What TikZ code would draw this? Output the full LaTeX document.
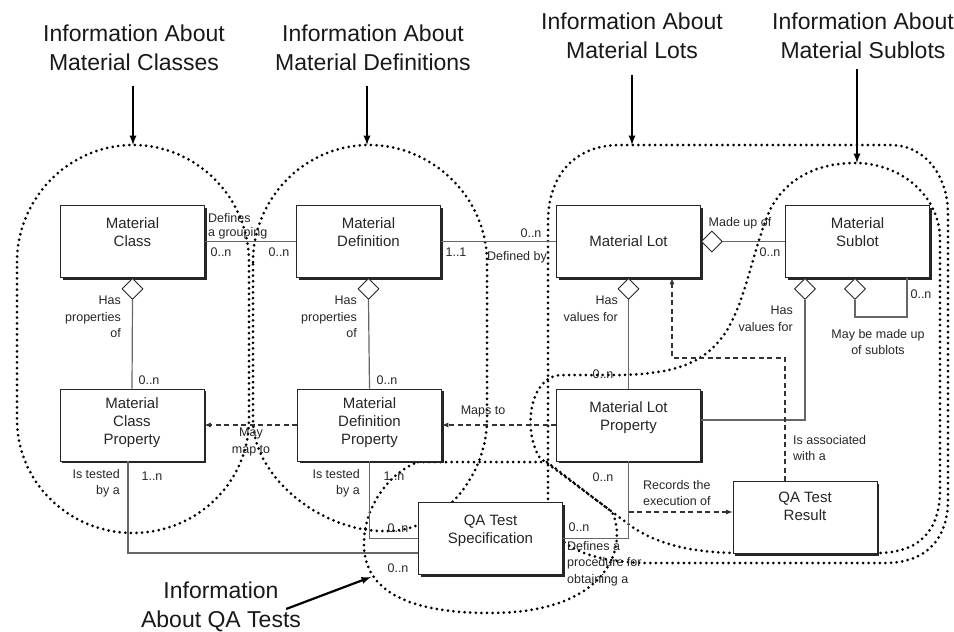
\documentclass[tikz,border=0pt]{standalone}
\usepackage{fontspec}
\setmainfont{Liberation Sans}
\usetikzlibrary{shapes.geometric,shadows,positioning}

\begin{document}
\begin{tikzpicture}[x=1pt,y=-1pt]
  % Colors
  \colorlet{linecolor}{black!60}
  \colorlet{textcolor}{black!85}

  % Styles
  \tikzset{
    entity/.style={draw=black!85,line width=0.9pt,fill=white,minimum width=144pt,minimum height=72pt,
      drop shadow={shadow xshift=2pt,shadow yshift=-2pt,fill=black!85,opacity=1}},
    etext/.style={anchor=north,align=center,inner sep=0pt,text=textcolor,font=\fontsize{15}{18}\selectfont},
    lbl/.style={inner sep=0pt,text=textcolor,font=\fontsize{12.5}{16.5}\selectfont},
    heading/.style={align=center,inner sep=0pt,text=black!90,font=\fontsize{23}{29}\selectfont},
    rel/.style={draw=linecolor,line width=1.2pt},
    ref/.style={draw=black!80,line width=1.2pt,dash pattern=on 5pt off 3.5pt,-latex},
    agg/.style={diamond,draw=black!85,line width=0.9pt,fill=white,minimum width=21pt,minimum height=21pt,inner sep=0pt},
    region/.style={line width=3pt,dash pattern=on 0pt off 5.6pt,line cap=round},
    pointer/.style={line width=2.2pt,-latex}
  }
  \useasboundingbox (0,0) rectangle (954,632);

  % Regions
  \draw[region] (17,262) .. controls (17,198) and (69,145) .. (133,145)
    .. controls (197,145) and (249,198) .. (249,262) -- (249,420)
    .. controls (249,482) and (197,533) .. (133,533)
    .. controls (69,533) and (17,482) .. (17,420) -- cycle;
  \draw[region] (253,262) .. controls (253,198) and (305,145) .. (369,145)
    .. controls (433,145) and (487,198) .. (487,262) -- (487,420)
    .. controls (487,470) and (450,522) .. (400,530)
    .. controls (330,540) and (253,480) .. (253,420) -- cycle;
  \draw[region] (418,462) -- (547,462) -- (612,512)
    .. controls (628,545) and (610,613) .. (490,613)
    .. controls (390,613) and (362,580) .. (364,540)
    .. controls (366,500) and (395,470) .. (418,462);
  \draw[region] (548,510) -- (548,222) .. controls (548,175) and (575,145) .. (620,145)
    -- (890,145) .. controls (925,145) and (948,175) .. (948,215) -- (948,500)
    .. controls (948,540) and (925,563) .. (885,563) -- (650,563)
    .. controls (600,563) and (548,550) .. (548,510);
  \draw[region] (855,163) .. controls (815,163) and (785,180) .. (770,210)
    .. controls (752,250) and (745,310) .. (720,340)
    .. controls (700,365) and (670,374) .. (620,375) -- (560,375)
    .. controls (530,377) and (522,430) .. (540,458) -- (627,523)
    .. controls (655,545) and (695,553) .. (740,553) -- (877,553)
    .. controls (920,553) and (940,530) .. (940,490) -- (940,240)
    .. controls (940,195) and (900,163) .. (855,163);

  \coordinate (classes-top) at (133,145);
  \coordinate (defs-top) at (367,145);
  \coordinate (lots-top) at (632,145);
  \coordinate (sublots-top) at (857,163);
  \coordinate (qa-tip) at (371,577);

  % Headings
  \node[heading] (h-classes) at (134,47.5) {Information About\\Material Classes};
  \node[heading] (h-defs) at (373,47.5) {Information About\\Material Definitions};
  \node[heading] (h-lots) at (632,36) {Information About\\Material Lots};
  \node[heading] (h-sublots) at (863,36) {Information About\\Material Sublots};
  \node[heading] (h-qa) at (221,607) {Information\\About QA Tests};

  \draw[pointer,shorten <=15pt] (h-classes.south -| classes-top) -- (classes-top);
  \draw[pointer,shorten <=15pt] (h-defs.south -| defs-top) -- (defs-top);
  \draw[pointer,shorten <=16pt] (h-lots.south -| lots-top) -- (lots-top);
  \draw[pointer,shorten <=10pt] (h-sublots.south -| sublots-top) -- (sublots-top);
  \draw[pointer] ([xshift=-15pt,yshift=-2pt]h-qa.east) -- (qa-tip);

  % Entities
  \node[entity] (mc) at (132.5,241.5) {};
  \node[entity] (md) at (368.5,241.5) {};
  \node[entity] (ml) at (628.5,241.5) {};
  \node[entity] (ms) at (857.5,241.5) {};
  \node[entity] (mcp) at (132,425) {};
  \node[entity] (mdp) at (369.5,425) {};
  \node[entity] (mlp) at (628.5,425) {};
  \node[entity] (qas) at (490.5,538.5) {};
  \node[entity] (qar) at (805,517.5) {};

  \node[etext] (mc-t) at ([yshift=-12pt]mc.north) {Material\\Class};
  \node[etext] (md-t) at ([yshift=-12pt]md.north) {Material\\Definition};
  \node[etext,anchor=center] (ml-t) at (ml) {Material Lot};
  \node[etext] (ms-t) at ([yshift=-12pt]ms.north) {Material\\Sublot};
  \node[etext] (mcp-t) at ([yshift=-8.5pt]mcp.north) {Material\\Class\\Property};
  \node[etext] (mdp-t) at ([yshift=-8.5pt]mdp.north) {Material\\Definition\\Property};
  \node[etext] (mlp-t) at ([yshift=-12.5pt]mlp.north) {Material Lot\\Property};
  \node[etext] (qas-t) at ([yshift=-12.5pt]qas.north) {QA Test\\Specification};
  \node[etext] (qar-t) at ([yshift=-10.5pt]qar.north) {QA Test\\Result};

  % Aggregation diamonds
  \node[agg,anchor=north] (mc-d) at (mc.south) {};
  \node[agg,anchor=north] (md-d) at (md.south) {};
  \node[agg,anchor=north] (ml-d) at (ml.south) {};
  \node[agg,anchor=west] (ml-d2) at (ml.east) {};
  \node[agg,anchor=north] (ms-d1) at ([xshift=-52.5pt]ms.south) {};
  \node[agg,anchor=north] (ms-d2) at ([xshift=-2.5pt]ms.south) {};
  \coordinate (ms-loop) at (907,317);
  \coordinate (qar-bend) at (672,358);
  \coordinate (rec) at (628.5,512);

  % Relations
  \draw[rel] (mc.east) -- (md.west);
  \draw[rel] (md.east) -- (ml.west);
  \draw[rel] (ml-d2.east) -- (ms.west);
  \draw[rel] (mc-d.south) -- (mcp.north);
  \draw[rel] (md-d.south) -- (mdp.north);
  \draw[rel] (ml-d.south) -- (mlp.north);
  \draw[rel] (ms-d1.south) |- ([yshift=5pt]mlp.east);
  \draw[rel] (ms-d2.south) |- (ms-loop) -- (ms-loop |- ms.south);
  \draw[rel] (mlp.south) |- (qas.east);
  \draw[rel] (mdp.south) |- (qas.west);
  \draw[rel] ([xshift=-4pt]mcp.south) |- ([yshift=-14.5pt]qas.west);
  \draw[ref] (mlp.west) -- (mdp.east);
  \draw[ref] (mdp.west) -- (mcp.east);
  \draw[ref] ([xshift=-20pt]qar.north) |- (qar-bend) -- (qar-bend |- ml.south);
  \draw[ref] (rec) -- (rec -| qar.west);

  % Labels
  \node[lbl,align=left,anchor=south west,font=\fontsize{12.5}{13.5}\selectfont] (l-grp) at (208,239) {Defines\\a grouping};
  \node[lbl] (n1) at (221,252) {0..n};
  \node[lbl] (n2) at (279,252) {0..n};
  \node[lbl] (n3) at (456,252) {1..1};
  \node[lbl] (n4) at (531,233) {0..n};
  \node[lbl] (l-def) at (517,257) {Defined by};
  \node[lbl] (l-made) at (740,223) {Made up of};
  \node[lbl] (n5) at (770,252) {0..n};
  \node[lbl,align=right,anchor=north east] (l-hp1) at (121,296) {Has\\properties\\of};
  \node[lbl] (n6) at (149,380) {0..n};
  \node[lbl,align=right,anchor=north east] (l-hp2) at (357,296) {Has\\properties\\of};
  \node[lbl] (n7) at (387,380) {0..n};
  \node[lbl,align=right,anchor=north east] (l-hv1) at (618,296) {Has\\values for};
  \node[lbl] (n8) at (603,374) {0..n};
  \node[lbl,align=right,anchor=north east] (l-hv2) at (793,306) {Has\\values for};
  \node[lbl] (n9) at (921,294) {0..n};
  \node[lbl,align=center] (l-sub) at (878,342) {May be made up\\of sublots};
  \node[lbl] (l-maps) at (483,411) {Maps to};
  \node[lbl,align=center] (l-may) at (251,442) {May\\map to};
  \node[lbl,align=left,anchor=north west] (l-assoc) at (793,435) {Is associated\\with a};
  \node[lbl] (n10) at (603,477) {0..n};
  \node[lbl,align=left,anchor=north west] (l-rec) at (643,480) {Records the\\execution of};
  \node[lbl] (n11) at (579,527) {0..n};
  \node[lbl,align=left,anchor=north west] (l-proc) at (567,541) {Defines a\\procedure for\\obtaining a};
  \node[lbl,align=right,anchor=north east] (l-test1) at (120,469) {Is tested\\by a};
  \node[lbl] (n12) at (152,476) {1..n};
  \node[lbl,align=right,anchor=north east] (l-test2) at (360,469) {Is tested\\by a};
  \node[lbl] (n13) at (394,476) {1..n};
  \node[lbl] (n14) at (398,528) {0..n};
  \node[lbl] (n15) at (398,568) {0..n};
\end{tikzpicture}
\end{document}
